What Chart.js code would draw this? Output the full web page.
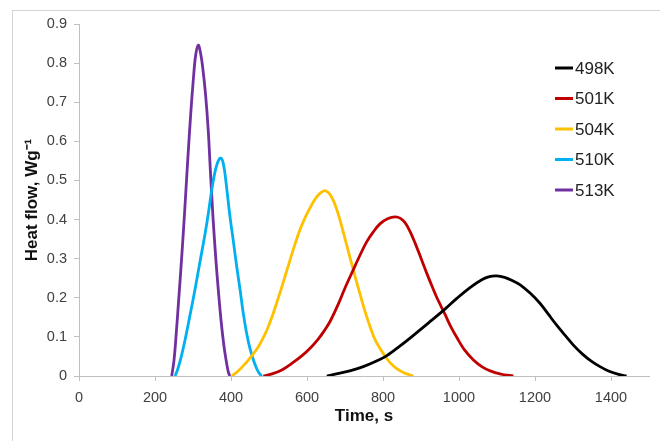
<!DOCTYPE html>
<html>
<head>
<meta charset="utf-8">
<script src="https://cdn.jsdelivr.net/npm/chart.js@4.4.1/dist/chart.umd.min.js"></script>
<style>
  body { margin: 0; background: #fff; }
  #wrap { position: relative; width: 660px; height: 441px; overflow: hidden; }
  #frame { position: absolute; left: 12px; top: 10px; width: 700px; height: 500px;
           border-left: 1px solid #d4d4d4; border-top: 1px solid #d4d4d4; }
  canvas { position: absolute; left: 0; top: 0; }
</style>
</head>
<body>
<div id="wrap">
  <div id="frame"></div>
  <canvas id="chart" width="660" height="441"></canvas>
</div>
<script>
// temperatures (series labels)
const labels = ["498K", "501K", "504K", "510K", "513K"];
const colors = ["#000000", "#c00000", "#ffc000", "#00b0f0", "#7030a0"];

// time, s  /  heat flow, W/g
const t498 = [652, 680, 715, 748, 780, 810, 845, 880, 920, 963, 995, 1029, 1060, 1080, 1099, 1120, 1140, 1161, 1187, 1213, 1235, 1257, 1280, 1301, 1325, 1348, 1371, 1395, 1420, 1441];
const hf498 = [0, 0.006, 0.014, 0.024, 0.037, 0.052, 0.077, 0.104, 0.136, 0.171, 0.199, 0.226, 0.246, 0.254, 0.256, 0.252, 0.244, 0.233, 0.212, 0.186, 0.158, 0.13, 0.103, 0.079, 0.056, 0.038, 0.024, 0.012, 0.004, 0];

const t501 = [485, 510, 535, 560, 587, 612, 630, 647, 661, 682, 700, 722, 740, 757, 775, 792, 812, 832, 846, 858, 871, 884, 900, 915, 928, 941, 963, 978, 994, 1015, 1038, 1060, 1082, 1110, 1143];
const hf501 = [0, 0.006, 0.016, 0.032, 0.052, 0.075, 0.095, 0.118, 0.14, 0.183, 0.225, 0.272, 0.31, 0.343, 0.369, 0.389, 0.402, 0.407, 0.403, 0.392, 0.37, 0.341, 0.301, 0.263, 0.232, 0.202, 0.158, 0.127, 0.099, 0.066, 0.041, 0.024, 0.013, 0.005, 0];

const t504 = [402, 418, 437, 455, 472, 486, 498, 511, 524, 536, 547, 558, 568, 582, 595, 608, 621, 634, 646, 656, 665, 674, 685, 696, 709, 722, 733, 744, 755, 766, 780, 801, 818, 836, 858, 880];
const hf504 = [0, 0.012, 0.031, 0.052, 0.075, 0.1, 0.126, 0.16, 0.198, 0.235, 0.27, 0.305, 0.336, 0.375, 0.405, 0.43, 0.452, 0.467, 0.474, 0.469, 0.457, 0.438, 0.405, 0.366, 0.318, 0.271, 0.232, 0.194, 0.158, 0.126, 0.091, 0.057, 0.035, 0.019, 0.007, 0];

const t510 = [253, 260, 268, 279, 292, 305, 318, 332, 341, 349, 357, 364, 370, 374, 378, 383, 389, 397, 406, 415, 424, 432, 441, 450, 459, 468, 475, 481];
const hf510 = [0, 0.018, 0.045, 0.092, 0.155, 0.22, 0.29, 0.365, 0.42, 0.474, 0.518, 0.544, 0.556, 0.557, 0.55, 0.525, 0.478, 0.41, 0.346, 0.28, 0.22, 0.162, 0.11, 0.07, 0.041, 0.018, 0.006, 0];

const t513 = [244, 250, 256, 262, 270, 278, 286, 294, 301, 307, 314, 320, 326, 333, 340, 346, 353, 360, 367, 374, 381, 388, 393, 397];
const hf513 = [0, 0.04, 0.11, 0.19, 0.3, 0.42, 0.55, 0.67, 0.76, 0.82, 0.846, 0.825, 0.785, 0.72, 0.63, 0.52, 0.4, 0.3, 0.215, 0.14, 0.08, 0.035, 0.01, 0];

const times = [t498, t501, t504, t510, t513];
const flows = [hf498, hf501, hf504, hf510, hf513];

const xTickStep = 200;
const yTickStep = 0.1;

const FONT = "'Liberation Sans', Arial, sans-serif";

const datasets = labels.map((lab, i) => ({
  label: lab,
  data: times[i].map((t, k) => ({ x: t, y: flows[i][k] })),
  borderColor: colors[i],
  borderWidth: 2.8,
  pointRadius: 0,
  fill: false,
  tension: 0.35,
}));

// legend drawn inside the plot, on the right
const insideLegend = {
  id: "insideLegend",
  afterDatasetsDraw(chart) {
    const { ctx, chartArea } = chart;
    const x0 = chartArea.right - 94;
    const y0 = chartArea.top + 44;
    ctx.save();
    ctx.font = "17px " + FONT;
    ctx.textBaseline = "middle";
    chart.data.datasets.forEach((ds, i) => {
      const y = y0 + i * 30.5;
      ctx.strokeStyle = ds.borderColor;
      ctx.lineWidth = 3;
      ctx.beginPath();
      ctx.moveTo(x0, y);
      ctx.lineTo(x0 + 18, y);
      ctx.stroke();
      ctx.fillStyle = "#222";
      ctx.fillText(ds.label, x0 + 20, y + 1);
    });
    ctx.restore();
  },
};

new Chart(document.getElementById("chart"), {
  type: "line",
  data: { datasets },
  plugins: [insideLegend],
  options: {
    responsive: false,
    animation: false,
    layout: { padding: { top: 24, right: 11, left: 0, bottom: 0 } },
    plugins: { legend: { display: false }, tooltip: { enabled: false } },
    scales: {
      x: {
        type: "linear",
        min: 0,
        max: 1500,
        afterFit: (s) => { s.height = 65; },
        ticks: {
          stepSize: xTickStep,
          includeBounds: false,
          color: "#404040",
          padding: 8,
          maxRotation: 0,
          font: { family: FONT, size: 14.5 },
          callback: (v) => String(v),
        },
        grid: { drawOnChartArea: false, tickLength: 5, color: "#bfbfbf" },
        border: { color: "#bfbfbf" },
        title: {
          display: true,
          text: "Time, s",
          color: "#111",
          font: { family: FONT, size: 17, weight: "bold" },
          padding: { top: 0, bottom: 14 },
        },
      },
      y: {
        min: 0,
        max: 0.9,
        afterFit: (s) => { s.width = 79; },
        ticks: {
          stepSize: yTickStep,
          color: "#404040",
          padding: 7,
          font: { family: FONT, size: 14.5 },
          callback: (v) => (v === 0 ? "0" : v.toFixed(1)),
        },
        grid: { drawOnChartArea: false, tickLength: 5, color: "#bfbfbf" },
        border: { color: "#bfbfbf" },
        title: {
          display: true,
          text: "Heat flow, Wg\u207B\u00B9",
          color: "#111",
          font: { family: FONT, size: 17, weight: "bold" },
          padding: { top: 22, bottom: 0 },
        },
      },
    },
  },
});
</script>
</body>
</html>
